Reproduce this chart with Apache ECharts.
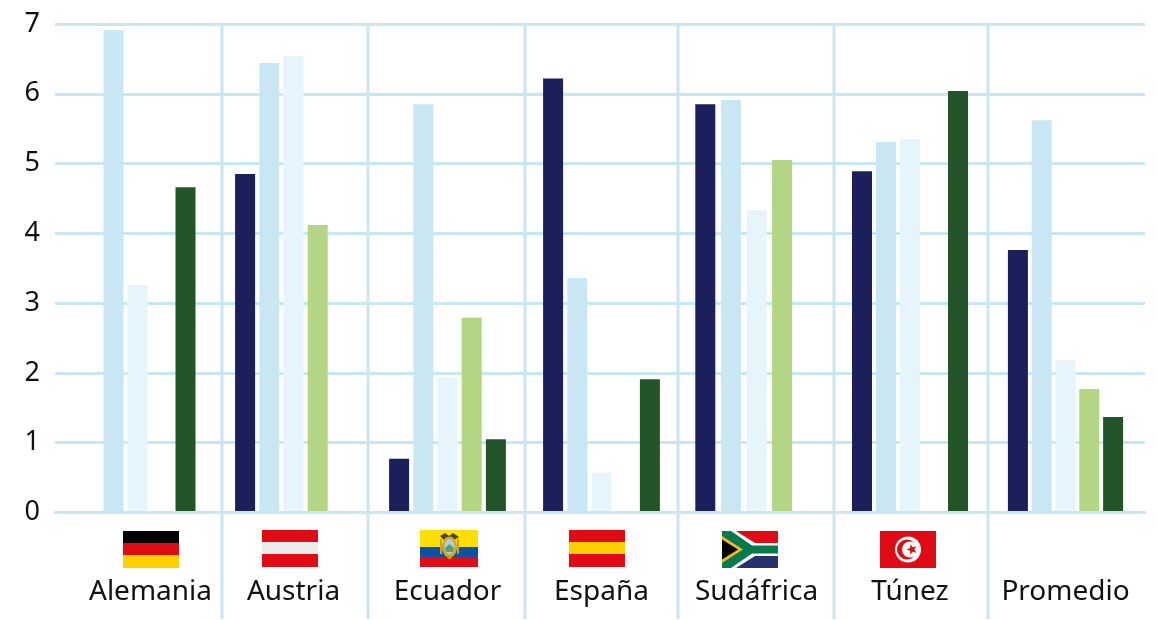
<!DOCTYPE html>
<html lang="es">
<head>
<meta charset="utf-8">
<title>Comparación por país</title>
<script src="https://cdn.jsdelivr.net/npm/echarts@6/dist/echarts.min.js"></script>
<style>
  html, body { margin: 0; padding: 0; background: #fff; }
  #chart { width: 1158px; height: 620px; }
</style>
</head>
<body>
<div id="chart"></div>
<script>
// Data
const countries = ['Alemania', 'Austria', 'Ecuador', 'España', 'Sudáfrica', 'Túnez', 'Promedio'];
const navyValues      = [null, 4.85, 0.77, 6.22, 5.85, 4.89, 3.76];
const skyValues       = [6.91, 6.44, 5.85, 3.36, 5.91, 5.31, 5.62];
const paleValues      = [3.26, 6.54, 1.93, 0.57, 4.33, 5.35, 2.18];
const limeValues      = [null, 4.12, 2.79, null, 5.05, null, 1.77];
const forestValues    = [4.66, null, 1.05, 1.91, null, 6.04, 1.37];
const yTicks = [0, 1, 2, 3, 4, 5, 6, 7];

// Layout and styling
const seriesSet = [
  { name: 'Serie 1', values: navyValues,   color: '#1b1f5a' },
  { name: 'Serie 2', values: skyValues,    color: '#c9e7f3' },
  { name: 'Serie 3', values: paleValues,   color: '#e6f4fc' },
  { name: 'Serie 4', values: limeValues,   color: '#b3d584' },
  { name: 'Serie 5', values: forestValues, color: '#24552a' }
];
const cellEdges = [55, 222, 368, 525, 678, 834, 988, 1145];
const separators = cellEdges.slice(1, -1);
const cellShift = [-1, -1.5, 1, 0, 0.5, -1, -1];
const barGaps = ['20%', '21%', '21%', '21%', '28%', '20%', '19%'];
const labelShift = [26, 0, 0, 0, 0, 0, 0];
const plotTop = 24, plotBottom = 512.5, sepBottom = 619;
const lineColor = '#c9e7f3';
const inkColor = '#111111';
const fontFamily = '"Noto Sans", "Open Sans", sans-serif';

// Flag artwork: small vector drawings placed above each country axis label
function rect(x, y, width, height, fill) {
  return { type: 'rect', shape: { x, y, width, height }, style: { fill } };
}
function poly(points, fill) {
  return { type: 'polygon', shape: { points }, style: { fill } };
}
function circle(cx, cy, r, fill) {
  return { type: 'circle', shape: { cx, cy, r }, style: { fill } };
}
function ellipse(cx, cy, rx, ry, fill) {
  return { type: 'ellipse', shape: { cx, cy, rx, ry }, style: { fill } };
}
function star(cx, cy, rOuter, rInner) {
  const pts = [];
  for (let i = 0; i < 10; i++) {
    const r = i % 2 ? rInner : rOuter;
    const a = -Math.PI / 2 + i * Math.PI / 5 - 0.3;
    pts.push([cx + r * Math.cos(a), cy + r * Math.sin(a)]);
  }
  return pts;
}
const red = '#e00b14', yellow = '#ffd000';
const flags = [
  { x: 123, y: 531, children: [
    rect(0, 0, 56, 12, '#000000'), rect(0, 12, 56, 12, red), rect(0, 24, 56, 13, yellow)
  ]},
  { x: 262, y: 530, children: [
    rect(0, 0, 56, 12, red), rect(0, 12, 56, 12, '#ebedec'), rect(0, 24, 56, 13, red)
  ]},
  { x: 420, y: 530, children: [
    rect(0, 0, 58, 17, '#ffdf00'), rect(0, 17, 58, 10, '#0d51a3'), rect(0, 27, 58, 10, red),
    rect(20, 9, 2, 15, '#c9a13a'), rect(37, 9, 2, 15, '#c9a13a'),
    poly([[20, 6], [25, 3], [29, 6], [33, 3], [39, 7], [34, 10], [29, 8], [24, 10]], '#4f4434'),
    ellipse(29.5, 17, 7.5, 10.5, '#d0a826'),
    ellipse(29.5, 16.5, 5, 7.5, '#a9d2dc'),
    poly([[25, 18], [29.5, 14], [34, 18], [33, 22], [26, 22]], '#5f9a78'),
    poly([[27, 26], [32, 26], [31, 29], [28, 29]], '#c4971a')
  ]},
  { x: 569, y: 530, children: [
    rect(0, 0, 56, 12, red), rect(0, 12, 56, 12, yellow), rect(0, 24, 56, 13, red)
  ]},
  { x: 722, y: 531, children: [
    rect(0, 0, 56, 18.5, red), rect(0, 18.5, 56, 18.5, '#28316f'),
    poly([[0, 0], [14, 0], [33, 12], [56, 12], [56, 25], [33, 25], [14, 37], [0, 37]], '#ffffff'),
    poly([[0, 0], [9, 0], [30, 14.5], [56, 14.5], [56, 22.5], [30, 22.5], [9, 37], [0, 37]], '#077a4d'),
    poly([[0, 5], [21, 18.5], [0, 32]], '#f5b52b'),
    poly([[0, 8.5], [16, 18.5], [0, 28.5]], '#000000')
  ]},
  { x: 880, y: 531, children: [
    rect(0, 0, 56, 37, red),
    circle(28, 18.5, 13, '#ffffff'),
    circle(27, 18.5, 10, red),
    circle(30, 18.5, 8, '#ffffff'),
    poly(star(32, 18.5, 5.5, 2.3), red)
  ]}
];

const gridLines = separators.map(x => ({
  type: 'line',
  silent: true,
  z: 0,
  shape: { x1: x, y1: plotTop, x2: x, y2: sepBottom },
  style: { stroke: lineColor, lineWidth: 3 }
}));
const flagGroups = flags.map(f => ({
  type: 'group', x: f.x, y: f.y, silent: true, children: f.children
}));

// Background grid carries the value scale, the horizontal rules and the baseline
const grids = [{
  left: cellEdges[0],
  width: cellEdges[cellEdges.length - 1] - cellEdges[0],
  top: plotTop,
  height: plotBottom - plotTop
}];
const xAxes = [{
  type: 'category',
  gridIndex: 0,
  data: [''],
  z: 3,
  axisLine: { show: true, lineStyle: { color: lineColor, width: 3 } },
  axisTick: { show: false },
  axisLabel: { show: false },
  splitLine: { show: false }
}];
const yScale = {
  type: 'value',
  min: yTicks[0],
  max: yTicks[yTicks.length - 1],
  interval: 1
};
const yAxes = [Object.assign({}, yScale, {
  gridIndex: 0,
  axisLine: { show: false },
  axisTick: { show: false },
  splitLine: { show: true, lineStyle: { color: lineColor, width: 3 } },
  axisLabel: { margin: 15, color: inkColor, fontFamily, fontSize: 27 }
})];
const series = [];

// One further grid per country, each with its own category band of bars
countries.forEach((country, i) => {
  const idx = i + 1;
  grids.push({
    left: cellEdges[i] + cellShift[i],
    width: cellEdges[i + 1] - cellEdges[i],
    top: plotTop,
    height: plotBottom - plotTop
  });
  xAxes.push({
    type: 'category',
    gridIndex: idx,
    data: [country],
    axisLine: { show: false },
    axisTick: { show: false },
    splitLine: { show: false },
    axisLabel: {
      interval: 0,
      margin: 66,
      color: inkColor,
      fontFamily,
      fontSize: 28,
      padding: [0, 0, 0, labelShift[i]]
    }
  });
  yAxes.push(Object.assign({}, yScale, {
    gridIndex: idx,
    show: false,
    splitLine: { show: false }
  }));
  seriesSet.forEach(s => {
    series.push({
      name: s.name,
      type: 'bar',
      xAxisIndex: idx,
      yAxisIndex: idx,
      barWidth: 20,
      barGap: barGaps[i],
      itemStyle: { color: s.color },
      silent: true,
      animation: false,
      data: [s.values[i]]
    });
  });
});

const chart = echarts.init(document.getElementById('chart'));
chart.setOption({
  animation: false,
  backgroundColor: '#ffffff',
  tooltip: { show: false },
  legend: { show: false },
  grid: grids,
  xAxis: xAxes,
  yAxis: yAxes,
  series,
  graphic: { elements: gridLines.concat(flagGroups) }
});
</script>
</body>
</html>
